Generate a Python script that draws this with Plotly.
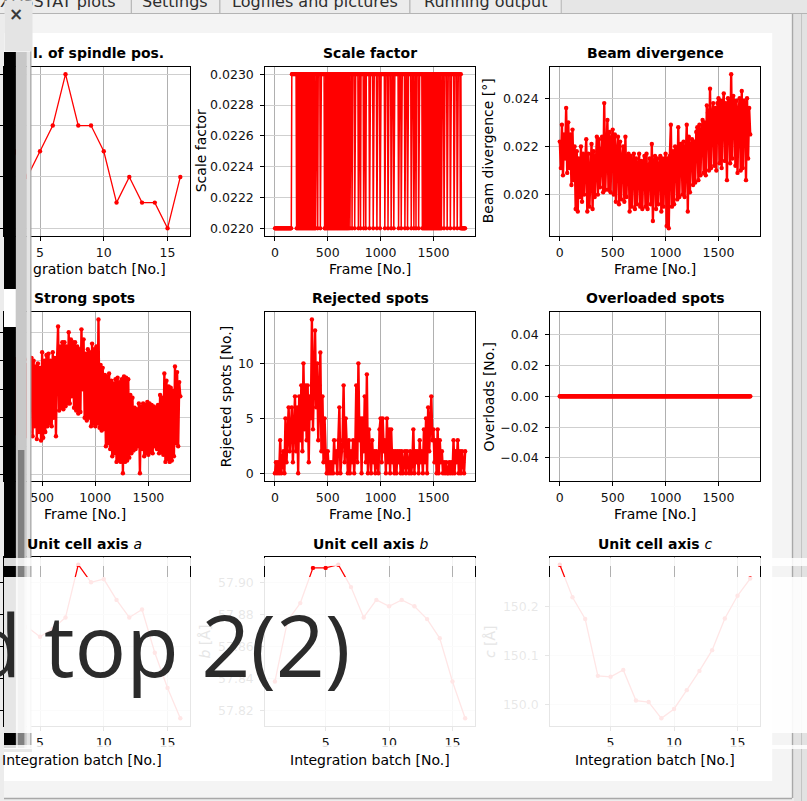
import plotly.graph_objects as go

W, H = 807, 801

# ---------------- data ----------------
batches = list(range(1, 17))
frames = list(range(0, 1801, 10))
frames_sf = list(range(0, 1801, 5))

spindle_sd = [0.033, 0.032, 0.033, 0.032, 0.033, 0.034, 0.036, 0.034,
              0.034, 0.033, 0.031, 0.032, 0.031, 0.031, 0.030, 0.032]

# scale factor per 5 frames: '0' = 0.0220, '1' = 0.0230
scale_factor_bits = "".join([
    "00000000000000000000000000000000",
    "11111111",
    "10101010101010101010101010101010101010",
    "11101111011111110",
    "0101010101010101010101010101010101010101010101",
    "1011101111", "0111111011", "1011111011", "1011111101", "1111101111",
    "1101111101", "1111111011", "1110111110", "1111011111", "1110111101",
    "1111101111", "0111111011", "1101110111", "1011111",
    "101010101010101010101010101010101010101",
    "1110111110", "1111101111", "1101111101", "111101",
    "00000000",
])
scale_levels = {"0": 0.0220, "1": 0.0230}

beam_divergence = [
    2220, 2110, 2290, 2080, 2250, 2150, 2360, 2090, 2300, 2110,
    2250, 2040, 2270, 2060, 2200, 1940, 2180, 1930, 2150, 1990,
    2200, 1970, 2170, 2000, 2140, 2230, 1930, 2170, 1950, 2120,
    2210, 1940, 2180, 1990, 2160, 2240, 2000, 2230, 2030, 2190,
    2240, 2010, 2380, 2020, 2200, 2310, 2020, 2260, 2010, 2230,
    2270, 2000, 2250, 1970, 2180, 2240, 1960, 2220, 1980, 2150,
    2200, 1970, 2240, 1990, 2160, 2170, 1930, 2160, 1950, 2140,
    2170, 1940, 2150, 1960, 2120, 2170, 1950, 2140, 1940, 2130,
    2160, 1950, 2170, 1940, 2110, 2150, 1960, 2210, 1890, 2140,
    2160, 1940, 2150, 1960, 2120, 2160, 1930, 2150, 1950, 2130,
    2170, 1870, 2150, 1860, 2160, 2290, 1950, 2180, 1960, 2200,
    2190, 1980, 2280, 1990, 2210, 2210, 2000, 2220, 1990, 2200,
    2290, 1930, 2240, 2010, 2210, 2230, 2040, 2220, 2050, 2260,
    2280, 2060, 2290, 2080, 2260, 2310, 2090, 2300, 2080, 2370,
    2340, 2100, 2440, 2110, 2330, 2380, 2120, 2360, 2100, 2380,
    2400, 2130, 2390, 2110, 2370, 2420, 2140, 2380, 2060, 2400,
    2390, 2130, 2500, 2150, 2410, 2380, 2120, 2390, 2090, 2350,
    2400, 2100, 2430, 2110, 2390, 2380, 2060, 2400, 2150, 2360,
    2250,
]

strong_spots = [
    1700, 1950, 1500, 1900, 1550, 1980, 1520, 2000, 1480, 1950,
    1550, 1990, 1470, 1960, 1520, 2000, 1500, 1950, 1460, 1990,
    1530, 1980, 1480, 1940, 1510, 2010, 1490, 1970, 1530, 1960,
    1500, 1990, 1460, 2000, 1520, 1970, 1470, 2010, 1500, 1960,
    2020, 1470, 2000, 1540, 1960, 1450, 1980, 1500, 1950, 1440,
    2060, 1460, 2000, 1500, 2040, 1540, 2050, 1560, 2000, 1540,
    2060, 1600, 2020, 1470, 2000, 2240, 1650, 2100, 1670, 2130,
    1660, 2130, 1680, 2100, 1700, 2200, 1700, 2150, 1750, 2130,
    1670, 2130, 1650, 2100, 1630, 2080, 1640, 2220, 1800, 2150,
    1600, 2050, 1580, 2080, 1600, 2060, 1540, 2120, 1560, 2080,
    1540, 2100, 1560, 2290, 1530, 1970, 1510, 1950, 1520, 1900,
    1400, 1890, 1420, 1910, 1380, 1860, 1330, 1840, 1350, 1870,
    1290, 1880, 1300, 1850, 1290, 1870, 1210, 1890, 1290, 1880,
    1300, 1870, 1320, 1760, 1350, 1740, 1370, 1670, 1380, 1660,
    1400, 1700, 1210, 1680, 1380, 1700, 1330, 1690, 1350, 1710,
    1340, 1700, 1360, 1690, 1350, 1680, 1400, 1670, 1380, 1690,
    1350, 1760, 1360, 1740, 1340, 1910, 1290, 1860, 1310, 1820,
    1290, 1810, 1300, 1790, 1330, 1960, 1420, 1920, 1400, 1850,
    1750,
]

rejected_spots = [
    0, 1, 0, 1, 0, 3, 0, 1, 2, 0,
    5, 1, 3, 6, 2, 4, 6, 1, 5, 7,
    2, 6, 0, 7, 3, 8, 2, 10, 4, 8,
    3, 8, 1, 7, 5, 14, 4, 9, 13, 6,
    10, 3, 8, 11, 2, 7, 1, 5, 2, 0,
    2, 0, 1, 0, 1, 0, 3, 1, 2, 0,
    3, 6, 0, 2, 3, 8, 1, 5, 2, 0,
    3, 0, 2, 1, 3, 0, 2, 8, 1, 10,
    3, 5, 0, 5, 2, 7, 1, 9, 0, 4,
    2, 0, 3, 1, 2, 0, 2, 1, 0, 4,
    5, 1, 5, 2, 3, 0, 5, 1, 4, 0,
    4, 1, 2, 0, 2, 0, 2, 1, 2, 0,
    2, 0, 1, 2, 0, 2, 1, 0, 2, 0,
    1, 4, 0, 2, 1, 2, 0, 3, 1, 2,
    0, 4, 1, 5, 0, 6, 2, 5, 7, 3,
    4, 1, 3, 0, 4, 0, 3, 1, 2, 0,
    1, 0, 1, 0, 0, 1, 0, 1, 0, 3,
    0, 2, 1, 3, 0, 2, 0, 2, 1, 0,
    2,
]

overloads = [
    0, 0, 0, 0, 0, 0, 0, 0, 0, 0, 0, 0, 0, 0, 0, 0, 0, 0, 0, 0,
    0, 0, 0, 0, 0, 0, 0, 0, 0, 0, 0, 0, 0, 0, 0, 0, 0, 0, 0, 0,
    0, 0, 0, 0, 0, 0, 0, 0, 0, 0, 0, 0, 0, 0, 0, 0, 0, 0, 0, 0,
    0, 0, 0, 0, 0, 0, 0, 0, 0, 0, 0, 0, 0, 0, 0, 0, 0, 0, 0, 0,
    0, 0, 0, 0, 0, 0, 0, 0, 0, 0, 0, 0, 0, 0, 0, 0, 0, 0, 0, 0,
    0, 0, 0, 0, 0, 0, 0, 0, 0, 0, 0, 0, 0, 0, 0, 0, 0, 0, 0, 0,
    0, 0, 0, 0, 0, 0, 0, 0, 0, 0, 0, 0, 0, 0, 0, 0, 0, 0, 0, 0,
    0, 0, 0, 0, 0, 0, 0, 0, 0, 0, 0, 0, 0, 0, 0, 0, 0, 0, 0, 0,
    0, 0, 0, 0, 0, 0, 0, 0, 0, 0, 0, 0, 0, 0, 0, 0, 0, 0, 0, 0,
    0,
]

cell_a = [57.860, 57.870, 57.875, 57.872, 57.866, 57.871, 57.878, 57.911,
          57.900, 57.902, 57.889, 57.878, 57.883, 57.856, 57.834, 57.815]
cell_b = [57.838, 57.876, 57.887, 57.909, 57.909, 57.911, 57.897, 57.878,
          57.889, 57.885, 57.889, 57.885, 57.877, 57.865, 57.838, 57.815]
cell_c = [150.284, 150.218, 150.174, 150.059, 150.057, 150.071, 150.009, 150.006,
          149.973, 149.992, 150.030, 150.069, 150.111, 150.175, 150.221, 150.256]

tabs = ["XDSSTAT plots", "Settings", "Logfiles and pictures", "Running output"]

scale_factor = [scale_levels[b] for b in scale_factor_bits]
assert len(scale_factor) == len(frames_sf)

# ---------------- geometry (pixels) ----------------
COLS = [(-24.7, 186.8), (262.7, 473.0), (549.0, 759.5)]
ROWS = [(66.5, 236.0), (311.7, 481.0), (557.0, 726.0)]
FONT = "DejaVu Sans"
RED = "#ff0000"

def fx(x):
    return x / W

def fy(y):
    return 1 - y / H

def mpl_range(v, pad=0.05):
    lo, hi = min(v), max(v)
    s = hi - lo
    if s == 0:
        return [lo - 0.055, hi + 0.055]
    return [lo - pad * s, hi + pad * s]

fig = go.Figure()
layout = dict(
    width=W, height=H, margin=dict(l=0, r=0, t=0, b=0),
    paper_bgcolor="#ececec", plot_bgcolor="#ffffff", showlegend=False,
    font=dict(family=FONT, size=12, color="#000000"),
)

panels = [
    # (col, row, x, y, yscale, xticks, yticks, yformat, ytext, linewidth, markersize)
    (0, 0, batches, spindle_sd, 1.0, [5, 10, 15], [0.030, 0.032, 0.034, 0.036], ".3f", None, 1.3, 4.4),
    (1, 0, frames_sf, scale_factor, 1.0, [0, 500, 1000, 1500],
     [0.0220, 0.0222, 0.0224, 0.0226, 0.0228, 0.0230], ".4f", None, 1.5, 4.2),
    (2, 0, frames, beam_divergence, 1e-5, [0, 500, 1000, 1500], [0.020, 0.022, 0.024], ".3f", None, 2.4, 4.4),
    (0, 1, frames, strong_spots, 1.0, [0, 500, 1000, 1500], [1200, 1400, 1600, 1800, 2000, 2200], "d", None, 2.4, 4.4),
    (1, 1, frames, rejected_spots, 1.0, [0, 500, 1000, 1500], [0, 5, 10], "d", None, 2.4, 4.4),
    (2, 1, frames, overloads, 1.0, [0, 500, 1000, 1500], [-0.04, -0.02, 0.0, 0.02, 0.04], ".2f",
     ["\u22120.04", "\u22120.02", "0.00", "0.02", "0.04"], 2.0, 4.6),
    (0, 2, batches, cell_a, 1.0, [5, 10, 15], [57.82, 57.84, 57.86, 57.88, 57.90], ".2f", None, 1.3, 4.4),
    (1, 2, batches, cell_b, 1.0, [5, 10, 15], [57.82, 57.84, 57.86, 57.88, 57.90], ".2f", None, 1.3, 4.4),
    (2, 2, batches, cell_c, 1.0, [5, 10, 15], [150.0, 150.1, 150.2], ".1f", None, 1.3, 4.4),
]

for i, (c, r, xs, ys, sc, xt, yt, yf, ytxt, lw, ms) in enumerate(panels, start=1):
    yv = [v * sc for v in ys]
    xr = mpl_range(xs)
    yr = mpl_range(yv)
    x0, x1 = COLS[c]
    if x0 < 0:  # leftmost column runs off the left edge of the window
        frac = -x0 / (x1 - x0)
        xr = [xr[0] + frac * (xr[1] - xr[0]), xr[1]]
        x0 = 0
    y0, y1 = ROWS[r]
    xn = "x" if i == 1 else f"x{i}"
    yn = "y" if i == 1 else f"y{i}"
    fig.add_trace(go.Scatter(
        x=xs, y=yv, xaxis=xn, yaxis=yn, mode="lines+markers",
        line=dict(color=RED, width=lw),
        marker=dict(color=RED, size=ms),
        cliponaxis=True, hoverinfo="skip"))
    xa = dict(domain=[fx(x0), fx(x1)], range=xr, anchor=yn, tickvals=xt,
              showgrid=True, gridcolor="#b0b0b0", gridwidth=1, zeroline=False,
              showline=True, linecolor="#000000", linewidth=1.2, mirror=True,
              ticks="outside", ticklen=4, tickwidth=1, tickcolor="#000000",
              ticklabelstandoff=1,
              tickfont=dict(size=12.5, family=FONT, color="#111111"), fixedrange=True)
    ya = dict(domain=[fy(y1), fy(y0)], range=yr, anchor=xn, tickvals=yt,
              tickformat=yf,
              showgrid=True, gridcolor="#cfcfcf", gridwidth=1.4, zeroline=False,
              showline=True, linecolor="#000000", linewidth=1.2, mirror=True,
              ticks="outside", ticklen=4, tickwidth=1, tickcolor="#000000",
              ticklabelstandoff=4,
              tickfont=dict(size=12.5, family=FONT, color="#111111"), fixedrange=True,
              showticklabels=(c != 0))
    if ytxt:
        ya["ticktext"] = ytxt
    layout["xaxis" if i == 1 else f"xaxis{i}"] = xa
    layout["yaxis" if i == 1 else f"yaxis{i}"] = ya

shapes = []
def rect(x0, y0, x1, y1, color, layer="below", opacity=1.0, line=None):
    d = dict(type="rect", xref="paper", yref="paper", x0=fx(x0), x1=fx(x1),
             y0=fy(y1), y1=fy(y0), fillcolor=color, layer=layer, opacity=opacity,
             line=dict(width=0) if line is None else line)
    shapes.append(d)

def hline(x0, x1, y, color, width=1, layer="below"):
    shapes.append(dict(type="line", xref="paper", yref="paper", x0=fx(x0), x1=fx(x1),
                       y0=fy(y), y1=fy(y), line=dict(color=color, width=width), layer=layer))

def vline(x, y0, y1, color, width=1, layer="below"):
    shapes.append(dict(type="line", xref="paper", yref="paper", x0=fx(x), x1=fx(x),
                       y0=fy(y0), y1=fy(y1), line=dict(color=color, width=width), layer=layer))

# window chrome (below plots)
rect(0, 13.5, 792, 798, "#f4f4f4")
rect(0, 33, 772, 781, "#ffffff")
vline(792.5, 13.5, 798, "#a8a8a8", 1.5)
hline(0, 792, 798.5, "#a8a8a8", 1.5)
rect(794, 13.5, 807, 801, "#e2e2e2")
vline(801.5, 13.5, 801, "#c4c4c4", 1)
# tabs
rect(0, 0, 807, 13.5, "#e6e6e6")
tab_edges = [-20, 128, 217, 408, 560]
for k in range(4):
    rect(tab_edges[k], -2, tab_edges[k + 1], 13.5, "#ececec",
         line=dict(color="#b4b4b4", width=1))
hline(0, 807, 13.5, "#b4b4b4", 1)

# left side panel (above plots)
L = "above"
rect(0, 52, 12, 748, "#000000", L)
rect(0, 289, 12, 327, "#ffffff", L)
rect(12, 52, 23, 748, "#c8c8c8", L)
rect(23, 52, 27, 748, "#e4e4e4", L)
rect(14, 450, 20.5, 748, "#808080", L)
vline(27, 0, 748, "#a0a0a0", 1.2, L)
rect(0, 748, 28, 752, "#d8d8d8", L, 0.6)

# translucent notification overlay
rect(0, 558, 807, 566, "#ffffff", L, 0.85)
rect(0, 577, 807, 733, "#ffffff", L, 0.9)
rect(0, 745, 807, 749, "#ffffff", L, 0.85)

layout["shapes"] = shapes

ann = []
def text(x, y, s, size=14, color="#000000", angle=0, xanchor="center",
         yanchor="middle", family=FONT, **kw):
    d = dict(x=fx(x), y=fy(y), xref="paper", yref="paper", text=s,
             showarrow=False, textangle=angle, xanchor=xanchor, yanchor=yanchor,
             font=dict(size=size, color=color, family=family))
    d.update(kw)
    ann.append(d)

titles = [
    (1, 0, "<b>Scale factor</b>"), (2, 0, "<b>Beam divergence</b>"),
    (0, 1, "<b>Strong spots</b>"), (1, 1, "<b>Rejected spots</b>"),
    (2, 1, "<b>Overloaded spots</b>"),
    (0, 2, "<b>Unit cell axis </b><i>a</i>"), (1, 2, "<b>Unit cell axis </b><i>b</i>"),
    (2, 2, "<b>Unit cell axis </b><i>c</i>"),
]
TY = [53, 298, 544]
for c, r, t in titles:
    text((COLS[c][0] + COLS[c][1]) / 2, TY[r], t, 14)
text(27, 53, "<b>l. of spindle pos.</b>", 14, xanchor="left")

XL = [269, 514, 760]
text(27, XL[0], "gration batch [No.]", 14, xanchor="left")
text((COLS[1][0] + COLS[1][1]) / 2, XL[0], "Frame [No.]")
text((COLS[2][0] + COLS[2][1]) / 2, XL[0], "Frame [No.]")
for c in range(3):
    text((COLS[c][0] + COLS[c][1]) / 2, XL[1], "Frame [No.]")
    text((COLS[c][0] + COLS[c][1]) / 2 - (3 if c == 0 else 0), XL[2], "Integration batch [No.]")

text(198, (ROWS[0][0] + ROWS[0][1]) / 2, "Scale factor", angle=-90)
text(486.5, (ROWS[0][0] + ROWS[0][1]) / 2, "Beam divergence [\u00b0]", angle=-90)
text(223, (ROWS[1][0] + ROWS[1][1]) / 2, "Rejected spots [No.]", angle=-90)
text(487.5, (ROWS[1][0] + ROWS[1][1]) / 2, "Overloads [No.]", angle=-90)
text(202, (ROWS[2][0] + ROWS[2][1]) / 2, "<i>b</i> [\u00c5]", color="#e6e6e6", angle=-90)
text(488, (ROWS[2][0] + ROWS[2][1]) / 2, "<i>c</i> [\u00c5]", color="#e6e6e6", angle=-90)

# tabs text
tab_centers = [54, 172, 312.5, 484]
for t, cx in zip(tabs, tab_centers):
    text(cx, 1, t, 16, color="#2e2e2e")
# header of the side panel (drawn over the first tab)
text(0, 0, " ", 10, xanchor="left", yanchor="top", bgcolor="#e4e4e4",
     width=27, height=50, borderpad=0)
text(12, 14, "<b>\u00d7</b>", 17, color="#3a3a3a")

# overlay message
text(350, 643, "d top 2(2)", 86, color="#2b2b2b", xanchor="right", family="Open Sans")

layout["annotations"] = ann
fig.update_layout(**layout)
fig.write_html("out.html", config={"displayModeBar": False},
               post_script="document.body.style.margin='0px';document.body.style.overflow='hidden';")
